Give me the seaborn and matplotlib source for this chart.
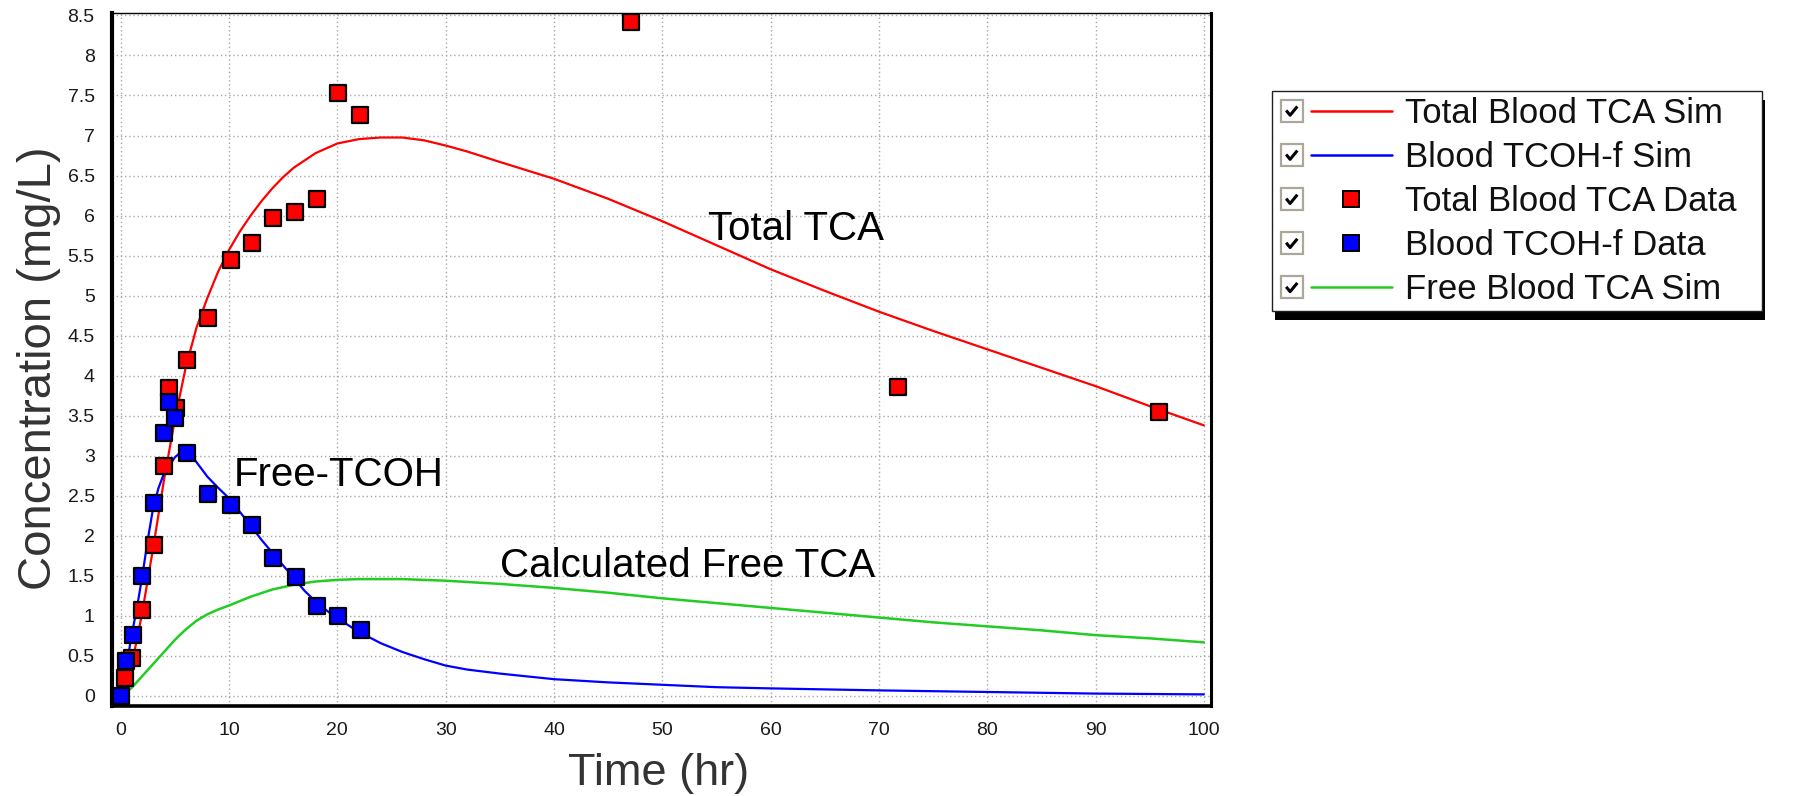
import numpy as np
import pandas as pd
import matplotlib
matplotlib.use("Agg")
import matplotlib.pyplot as plt
import seaborn as sns
from matplotlib.lines import Line2D
from matplotlib.patches import Rectangle
from matplotlib.legend_handler import HandlerBase
from matplotlib.ticker import MultipleLocator, FuncFormatter

# ---------------- data ----------------
sim_tca_t = [0, 0.5, 1, 1.5, 2, 3, 4, 5, 6, 7, 8, 9, 10, 11, 12, 13, 14, 15, 16, 18, 20, 22, 24, 26,
             28, 30, 32, 35, 40, 45, 50, 55, 60, 65, 70, 75, 80, 85, 90, 95, 100]
sim_tca_y = [0, 0.15, 0.4, 0.7, 1.05, 1.85, 2.7, 3.45, 4.1, 4.6, 4.97, 5.3, 5.57, 5.8, 6.0, 6.18, 6.34,
             6.48, 6.6, 6.78, 6.90, 6.955, 6.975, 6.975, 6.94, 6.875, 6.80, 6.67, 6.46, 6.21, 5.93,
             5.63, 5.33, 5.06, 4.80, 4.56, 4.33, 4.10, 3.87, 3.62, 3.38]

sim_tcoh_t = [0, 0.25, 0.5, 1, 1.5, 2, 2.5, 3, 3.5, 4, 5, 5.5, 6, 6.5, 7, 8, 9, 10, 11, 12, 13, 14, 15,
              16, 17, 18, 19, 20, 22, 24, 26, 28, 30, 32, 35, 40, 45, 50, 55, 60, 70, 80, 90, 100]
sim_tcoh_y = [0, 0.1, 0.35, 0.75, 1.1, 1.5, 1.95, 2.35, 2.6, 2.78, 2.98, 3.04, 3.06, 3.02, 2.92, 2.74,
              2.6, 2.47, 2.3, 2.13, 1.95, 1.79, 1.63, 1.47, 1.31, 1.18, 1.07, 0.97, 0.8, 0.66, 0.55,
              0.46, 0.38, 0.33, 0.28, 0.21, 0.17, 0.14, 0.11, 0.095, 0.07, 0.05, 0.03, 0.02]

sim_free_t = [0, 1, 2, 3, 4, 5, 6, 7, 8, 9, 10, 12, 14, 16, 18, 20, 22, 24, 26, 28, 30, 35, 40, 45,
              50, 55, 60, 65, 70, 75, 80, 85, 90, 95, 100]
sim_free_y = [0, 0.1, 0.25, 0.4, 0.55, 0.7, 0.83, 0.94, 1.02, 1.08, 1.13, 1.24, 1.33, 1.39, 1.43,
              1.45, 1.46, 1.46, 1.46, 1.45, 1.44, 1.40, 1.35, 1.29, 1.22, 1.16, 1.10, 1.04, 0.98,
              0.92, 0.87, 0.82, 0.76, 0.72, 0.67]

data_tca_t = [0.4, 1.08, 2.01, 3.09, 4.02, 4.49, 5.11, 6.10, 8.05, 10.16, 12.14, 14.03, 16.1, 18.1,
              20.04, 22.1, 47.1, 71.8, 95.9]
data_tca_y = [0.22, 0.48, 1.08, 1.88, 2.87, 3.85, 3.60, 4.20, 4.72, 5.45, 5.66, 5.97, 6.04, 6.21,
              7.53, 7.26, 8.42, 3.86, 3.55]

data_tcoh_t = [0, 0.46, 1.14, 2.01, 3.09, 4.02, 4.49, 5.05, 6.10, 8.05, 10.16, 12.08, 14.03, 16.2,
               18.1, 20.07, 22.2]
data_tcoh_y = [0, 0.44, 0.76, 1.50, 2.41, 3.28, 3.67, 3.47, 3.04, 2.52, 2.38, 2.14, 1.72, 1.48,
               1.12, 1.00, 0.83]

legend_labels = ["Total Blood TCA Sim", "Blood TCOH-f Sim", "Total Blood TCA Data",
                 "Blood TCOH-f Data", "Free Blood TCA Sim"]
annotations = [("Total TCA", 54.2, 5.70), ("Free-TCOH", 10.48, 2.62),
               ("Calculated Free TCA", 35.0, 1.49)]
x_ticks = list(range(0, 101, 10))
y_ticks = [i * 0.5 for i in range(0, 18)]

RED = "#ff0000"
BLUE = "#0000ff"
GREEN = "#22cc22"

# ---------------- figure ----------------
sns.set_theme(style="white")
plt.rcParams["font.family"] = ["Liberation Sans", "DejaVu Sans"]

W, H = 1793, 796
fig = plt.figure(figsize=(W / 100, H / 100), dpi=100)
fig.patch.set_facecolor("white")
ax = fig.add_axes([112 / W, 1 - 706 / H, (1211 - 112) / W, (706 - 13) / H])
ax.set_facecolor("white")

df_tca = pd.DataFrame({"t": sim_tca_t, "y": sim_tca_y})
df_tcoh = pd.DataFrame({"t": sim_tcoh_t, "y": sim_tcoh_y})
df_free = pd.DataFrame({"t": sim_free_t, "y": sim_free_y})
df_dtca = pd.DataFrame({"t": data_tca_t, "y": data_tca_y})
df_dtcoh = pd.DataFrame({"t": data_tcoh_t, "y": data_tcoh_y})

sns.lineplot(data=df_tca, x="t", y="y", ax=ax, color=RED, lw=1.6, estimator=None, legend=False, zorder=3)
sns.lineplot(data=df_tcoh, x="t", y="y", ax=ax, color=BLUE, lw=1.6, estimator=None, legend=False, zorder=3)
sns.lineplot(data=df_free, x="t", y="y", ax=ax, color=GREEN, lw=1.8, estimator=None, legend=False, zorder=3)
sns.scatterplot(data=df_dtca, x="t", y="y", ax=ax, marker="s", s=120, color=RED,
                edgecolor="black", linewidth=1.6, legend=False, zorder=5)
sns.scatterplot(data=df_dtcoh, x="t", y="y", ax=ax, marker="s", s=120, color=BLUE,
                edgecolor="black", linewidth=1.6, legend=False, zorder=6)

ax.set_xlim(-0.8, 100.66)
ax.set_ylim(-0.125, 8.53)
ax.set_xticks(x_ticks)
ax.set_yticks(y_ticks)
ax.xaxis.set_minor_locator(MultipleLocator(2.5))
ax.yaxis.set_minor_locator(MultipleLocator(0.1))
ax.yaxis.set_major_formatter(FuncFormatter(lambda v, p: f"{v:g}"))
ax.xaxis.set_major_formatter(FuncFormatter(lambda v, p: f"{v:g}"))

ax.grid(True, which="major", color="#a8a8a8", linestyle=(0, (1, 2)), linewidth=1.0)
ax.set_axisbelow(True)

ax.tick_params(axis="both", which="major", direction="out", length=5.5, width=1.2,
               color="#707070", labelsize=14, labelcolor="#1a1a1a")
ax.tick_params(axis="both", which="minor", direction="out", length=3.5, width=1.0, color="#909090")
ax.tick_params(axis="y", which="major", pad=7)
ax.tick_params(axis="x", which="major", length=5, pad=6.5)
ax.tick_params(axis="x", which="minor", length=5)

for side, lw in [("left", 3.0), ("bottom", 2.6), ("right", 2.2), ("top", 1.0)]:
    ax.spines[side].set_visible(True)
    ax.spines[side].set_color("black")
    ax.spines[side].set_linewidth(lw)

ax.set_xlabel("Time (hr)", fontsize=32.5, color="#333333", va="baseline", ha="center")
ax.xaxis.set_label_coords((658.5 - 112) / 1099, (706 - 785) / 693)
ax.set_ylabel("Concentration (mg/L)", fontsize=34, color="#333333", va="baseline", ha="center")
ax.yaxis.set_label_coords((51 - 112) / 1099, (706 - 368) / 693)

for txt, xx, yy in annotations:
    ax.text(xx, yy, txt, fontsize=29, color="black", ha="left", va="baseline", zorder=7)

# ---------------- legend ----------------
class CheckHandler(HandlerBase):
    def create_artists(self, legend, orig, xdescent, ydescent, width, height, fontsize, trans):
        x0 = -xdescent
        yc = -ydescent + height / 2
        bs = 0.63 * fontsize
        box = Rectangle((x0, yc - bs / 2), bs, bs, facecolor="white", edgecolor="#aca899",
                        lw=1.6, transform=trans)
        chk = Line2D([x0 + 0.25 * bs, x0 + 0.43 * bs, x0 + 0.76 * bs],
                     [yc + 0.02 * bs, yc - 0.2 * bs, yc + 0.2 * bs],
                     color="black", lw=2.2, solid_capstyle="butt", transform=trans)
        ls = x0 + bs + 0.23 * fontsize
        le = x0 + width
        arts = [box, chk]
        if orig.get_marker() in ("s",):
            m = Line2D([(ls + le) / 2], [yc], marker="s", markersize=11.5,
                       markerfacecolor=orig.get_markerfacecolor(), markeredgecolor="black",
                       markeredgewidth=1.4, linestyle="none", transform=trans)
            arts.append(m)
        else:
            ln = Line2D([ls, le], [yc, yc], color=orig.get_color(), lw=1.8, transform=trans)
            arts.append(ln)
        return arts

handles = [
    Line2D([], [], color=RED, lw=1.6),
    Line2D([], [], color=BLUE, lw=1.6),
    Line2D([], [], marker="s", color=RED, markerfacecolor=RED, linestyle="none"),
    Line2D([], [], marker="s", color=BLUE, markerfacecolor=BLUE, linestyle="none"),
    Line2D([], [], color=GREEN, lw=1.8),
]

# frame + shadow
fx0, fx1, fy0, fy1 = 1271.5, 1761.7, 91, 311
fig.patches.append(Rectangle(((fx0 + 3) / W, 1 - (fy1 + 9) / H), (fx1 - fx0) / W, (fy1 - fy0) / H,
                             transform=fig.transFigure, facecolor="black", edgecolor="none", zorder=1))
fig.patches.append(Rectangle((fx0 / W, 1 - fy1 / H), (fx1 - fx0) / W, (fy1 - fy0) / H,
                             transform=fig.transFigure, facecolor="white", edgecolor="#202020",
                             lw=1.0, zorder=2))

leg = fig.legend(handles, legend_labels, handler_map={Line2D: CheckHandler()},
                 loc="upper left", bbox_to_anchor=(1280.7 / W, 1 - 97 / H),
                 bbox_transform=fig.transFigure, frameon=False, borderpad=0, borderaxespad=0,
                 handlelength=3.2, handletextpad=0.37, labelspacing=0.32, fontsize=25)
leg.set_zorder(3)
for t in leg.get_texts():
    t.set_color("#111111")

fig.savefig("out.png", dpi=100, facecolor="white")
